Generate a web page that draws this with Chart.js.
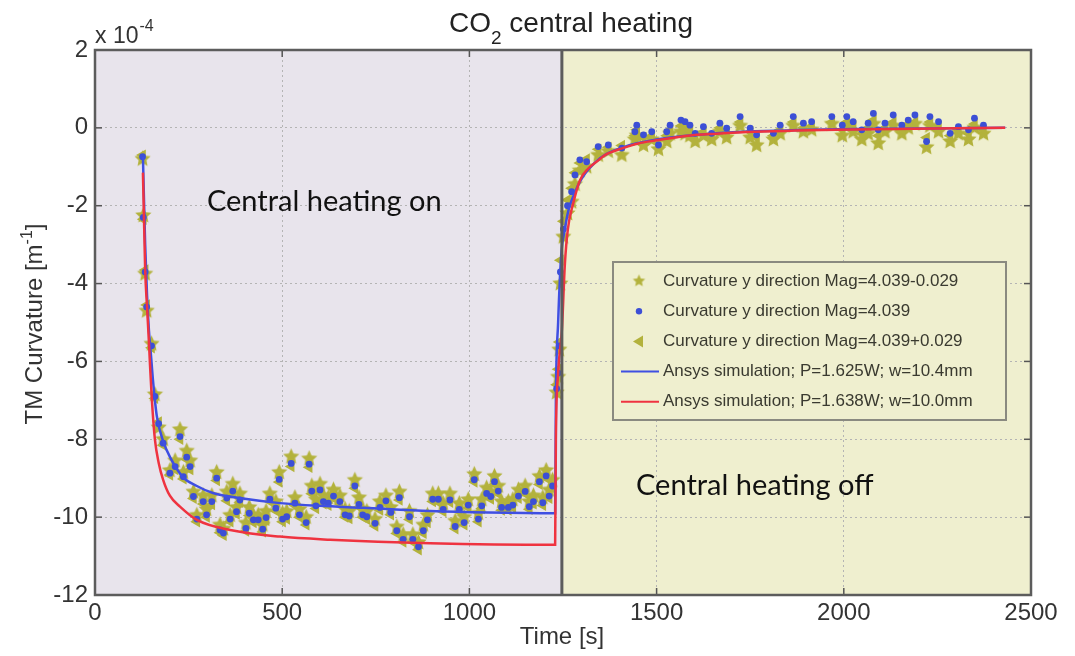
<!DOCTYPE html>
<html>
<head>
<meta charset="utf-8">
<title>CO2 central heating</title>
<script src="https://cdn.jsdelivr.net/npm/chart.js@4.4.1/dist/chart.umd.min.js"></script>
<style>
  html, body { margin: 0; padding: 0; background: #fff; }
</style>
</head>
<body>
<canvas id="myChart" width="1075" height="656"></canvas>
<script>
// measurement times [s], shared by the three magnification series
const times = [127,129,134,138,151,160,170,182,200,214,
  227,236,245,254,263,272,289,298,312,325,
  334,343,352,361,368,378,387,403,412,423,
  436,448,457,467,483,492,501,512,524,534,
  546,564,572,579,590,601,610,623,637,654,
  668,679,694,705,715,726,748,761,777,790,
  806,813,823,840,849,864,877,888,902,917,
  930,948,962,973,986,997,1013,1024,1033,1046,
  1057,1067,1077,1086,1104,1116,1131,1149,1160,1171,
  1187,1196,1205,1213,1222,
  1233,1237,1240,1243,1251,1262,1273,1282,1295,1313,
  1344,1371,1407,1442,1447,1465,1487,1505,1527,1536,
  1565,1576,1589,1603,1625,1647,1669,1687,1723,1750,
  1767,1812,1830,1865,1892,1914,1968,1996,2008,2025,
  2048,2065,2079,2092,2110,2132,2155,2172,2190,2221,
  2230,2253,2284,2306,2333,2349,2373];

// curvature (x 1e-4 m^-1), Mag=4.039
const magMid = [-0.74,-2.30,-3.70,-4.60,-5.60,-6.90,-7.60,-8.10,-8.87,-8.70,
  -7.93,-8.96,-8.46,-8.70,-9.47,-10.05,-9.60,-9.94,-9.60,-9.00,
  -10.33,-10.41,-9.51,-10.05,-9.33,-9.86,-9.56,-10.29,-9.90,-10.07,
  -10.07,-10.31,-10.01,-9.54,-9.77,-9.03,-10.05,-9.99,-8.62,-9.64,
  -9.94,-10.14,-8.64,-9.33,-9.71,-9.30,-9.60,-9.64,-9.46,-9.60,
  -9.94,-9.97,-9.20,-9.67,-9.94,-9.99,-10.16,-9.75,-9.58,-9.88,
  -10.35,-9.50,-10.57,-9.99,-10.57,-10.76,-10.35,-10.07,-9.54,-9.54,
  -9.80,-9.56,-10.24,-9.80,-10.14,-9.69,-9.04,-10.05,-9.71,-9.39,
  -9.47,-9.09,-9.33,-9.75,-9.75,-9.69,-9.46,-9.34,-9.73,-9.60,
  -9.09,-9.63,-8.94,-9.46,-9.20,
  -6.70,-6.30,-5.60,-3.70,-2.60,-2.00,-1.64,-1.21,-0.82,-0.87,
  -0.48,-0.44,-0.52,-0.10,0.07,-0.18,-0.10,-0.44,-0.10,0.07,
  0.20,0.16,0.07,-0.14,0.03,-0.14,0.12,-0.01,0.29,-0.01,
  -0.18,-0.14,0.07,0.29,0.12,0.16,0.29,0.07,0.29,0.16,
  -0.05,0.12,0.37,-0.05,0.12,0.33,0.07,0.20,0.33,-0.35,
  0.29,0.16,-0.14,0.03,-0.05,0.25,0.07];

// Mag=4.039-0.029 (stars)
const magLow = [-0.80,-2.25,-3.75,-4.70,-5.55,-6.85,-7.70,-8.00,-8.80,-8.55,
  -7.75,-8.85,-8.30,-8.55,-9.35,-9.95,-9.45,-9.80,-9.45,-8.85,
  -10.20,-10.30,-9.35,-9.95,-9.15,-9.75,-9.40,-10.15,-9.75,-9.95,
  -9.95,-10.20,-9.85,-9.40,-9.60,-8.85,-9.90,-9.85,-8.45,-9.50,
  -9.80,-10.00,-8.50,-9.20,-9.55,-9.15,-9.45,-9.50,-9.30,-9.45,
  -9.80,-9.85,-9.05,-9.50,-9.80,-9.85,-10.05,-9.60,-9.45,-9.75,
  -10.25,-9.35,-10.45,-9.85,-10.45,-10.65,-10.20,-9.95,-9.40,-9.40,
  -9.65,-9.40,-10.10,-9.65,-10.00,-9.55,-8.90,-9.90,-9.55,-9.25,
  -9.35,-8.95,-9.20,-9.60,-9.60,-9.55,-9.30,-9.20,-9.60,-9.45,
  -8.95,-9.50,-8.80,-9.30,-9.05,
  -6.80,-6.40,-5.70,-4.00,-2.80,-2.20,-1.90,-1.45,-1.10,-1.00,
  -0.70,-0.60,-0.70,-0.30,-0.20,-0.45,-0.30,-0.55,-0.35,-0.15,
  -0.10,-0.15,-0.20,-0.35,-0.20,-0.30,-0.10,-0.25,0.05,-0.25,
  -0.45,-0.30,-0.15,0.05,-0.10,-0.05,0.10,-0.20,0.05,-0.10,
  -0.30,-0.15,0.10,-0.40,-0.10,0.05,-0.15,0.00,0.10,-0.50,
  0.05,-0.10,-0.35,-0.15,-0.30,0.00,-0.15];

// Mag=4.039+0.029 (triangles)
const magHigh = [-0.70,-2.35,-3.65,-4.55,-5.65,-6.95,-7.55,-8.15,-8.92,-8.78,
  -8.00,-9.02,-8.52,-8.78,-9.52,-10.12,-9.66,-10.00,-9.68,-9.06,
  -10.40,-10.47,-9.58,-10.12,-9.40,-9.92,-9.62,-10.36,-9.96,-10.14,
  -10.13,-10.38,-10.08,-9.60,-9.84,-9.10,-10.12,-10.05,-8.70,-9.70,
  -10.00,-10.20,-8.72,-9.40,-9.78,-9.36,-9.66,-9.70,-9.52,-9.66,
  -10.00,-10.04,-9.26,-9.74,-10.00,-10.06,-10.23,-9.82,-9.64,-9.94,
  -10.42,-9.56,-10.64,-10.06,-10.64,-10.84,-10.42,-10.14,-9.60,-9.62,
  -9.86,-9.62,-10.30,-9.86,-10.20,-9.76,-9.10,-10.12,-9.78,-9.46,
  -9.54,-9.16,-9.40,-9.82,-9.82,-9.76,-9.52,-9.40,-9.80,-9.66,
  -9.16,-9.70,-9.00,-9.52,-9.26,
  -6.60,-6.20,-5.50,-3.40,-2.40,-1.85,-1.55,-1.15,-0.90,-0.80,
  -0.55,-0.50,-0.45,-0.20,-0.05,-0.25,-0.20,-0.40,-0.20,-0.05,
  0.05,0.00,-0.05,-0.20,-0.10,-0.20,0.00,-0.10,0.15,-0.10,
  -0.25,-0.20,-0.05,0.15,0.00,0.05,0.15,-0.05,0.15,0.05,
  -0.15,0.00,0.20,-0.20,0.00,0.15,-0.05,0.10,0.15,-0.25,
  0.15,0.05,-0.20,-0.05,-0.15,0.10,-0.05];

// Ansys simulation P=1.625W w=10.4mm
const simBlueT = [128,131,134,139,144,150,155,165,182,200,235,272,315,400,494,600,716,895,1050,1229,
  1231,1237,1245,1255,1265,1280,1300,1349,1410,1500,1660,1763,2030,2431];
const simBlueV = [-0.75,-1.9,-3.0,-4.3,-5.2,-5.9,-6.5,-7.4,-8.05,-8.45,-8.97,-9.2,-9.38,-9.53,-9.64,-9.71,-9.76,-9.84,-9.88,-9.9,
  -7.0,-5.0,-3.3,-2.6,-2.1,-1.7,-1.3,-0.78,-0.5,-0.3,-0.14,-0.09,-0.03,0.0];

// Ansys simulation P=1.638W w=10.0mm
const simRedT = [128,131,134,139,144,147,152,160,170,182,200,227,272,361,494,628,895,1229,
  1231,1237,1247,1255,1263,1277,1295,1317,1349,1362,1410,1451,1501,1584,1660,1763,2030,2431];
const simRedV = [-1.15,-2.4,-3.65,-4.6,-5.5,-6.1,-7.0,-8.0,-8.6,-9.04,-9.45,-9.73,-10.07,-10.33,-10.5,-10.58,-10.67,-10.71,
  -8.0,-6.3,-5.2,-3.5,-2.6,-1.95,-1.35,-1.05,-0.8,-0.7,-0.52,-0.4,-0.32,-0.2,-0.15,-0.1,-0.04,0.0];

const xTicks = [0, 500, 1000, 1500, 2000, 2500];
const yTicks = [2, 0, -2, -4, -6, -8, -10, -12];
const heatingOff = 1247;   // time the heater is switched off

const olive = '#b3b23c';
const dotBlue = '#3c4fd6';
const lineBlue = '#3f4fe2';
const lineRed = '#ef3340';
const lavender = '#e8e4ec';
const paleYellow = '#efefcf';
const SANS = '"Liberation Sans", Arial, sans-serif';

function makeStar(r, color) {
  const c = document.createElement('canvas');
  c.width = c.height = Math.ceil(2 * r + 2);
  const g = c.getContext('2d');
  const cx = c.width / 2, cy = c.height / 2;
  g.beginPath();
  for (let i = 0; i < 10; i++) {
    const rr = i % 2 ? r * 0.48 : r;
    const ang = -Math.PI / 2 + i * Math.PI / 5;
    g.lineTo(cx + rr * Math.cos(ang), cy + rr * Math.sin(ang));
  }
  g.closePath();
  g.fillStyle = color;
  g.fill();
  return c;
}
const starImg = makeStar(8.5, olive);

const toXY = (xs, ys) => xs.map((t, i) => ({ x: t, y: ys[i] }));

// draws a run of [text, size, dy] pieces, centred on x
function drawPieces(ctx, pieces, x, y, color) {
  ctx.fillStyle = color;
  ctx.textBaseline = 'alphabetic';
  ctx.textAlign = 'left';
  let total = 0;
  pieces.forEach(p => { ctx.font = p[1] + 'px ' + SANS; total += ctx.measureText(p[0]).width; });
  let cx = x - total / 2;
  pieces.forEach(p => {
    ctx.font = p[1] + 'px ' + SANS;
    ctx.fillText(p[0], cx, y + p[2]);
    cx += ctx.measureText(p[0]).width;
  });
}

const backdrop = {
  id: 'backdrop',
  beforeDraw(chart) {
    const { ctx, chartArea: a, scales: { x } } = chart;
    const xs = x.getPixelForValue(heatingOff);
    ctx.save();
    ctx.fillStyle = '#fff';
    ctx.fillRect(0, 0, chart.width, chart.height);
    ctx.fillStyle = lavender;
    ctx.fillRect(a.left, a.top, xs - a.left, a.bottom - a.top);
    ctx.fillStyle = paleYellow;
    ctx.fillRect(xs, a.top, a.right - xs, a.bottom - a.top);
    ctx.restore();
  }
};

const overlay = {
  id: 'overlay',
  afterDraw(chart) {
    const { ctx, chartArea: a, scales: { x, y } } = chart;
    const line = (x1, y1, x2, y2) => { ctx.beginPath(); ctx.moveTo(x1, y1); ctx.lineTo(x2, y2); ctx.stroke(); };
    ctx.save();

    // MATLAB style inward ticks
    ctx.strokeStyle = '#555';
    ctx.lineWidth = 1.5;
    xTicks.forEach(v => {
      const px = x.getPixelForValue(v);
      line(px, a.top, px, a.top + 7);
      line(px, a.bottom, px, a.bottom - 7);
    });
    yTicks.forEach(v => {
      const py = y.getPixelForValue(v);
      line(a.left, py, a.left + 7, py);
      line(a.right, py, a.right - 7, py);
    });

    // axes box + switch-off divider
    ctx.strokeStyle = '#5c5c5c';
    ctx.lineWidth = 2.5;
    ctx.strokeRect(a.left, a.top, a.right - a.left, a.bottom - a.top);
    const xs = x.getPixelForValue(heatingOff);
    ctx.lineWidth = 3;
    line(xs, a.top, xs, a.bottom);

    // title with subscript
    drawPieces(ctx, [['CO', 28, 0], ['2', 19, 12], [' central heating', 28, 0]], 571, 32, '#222');

    // exponent label
    ctx.textAlign = 'left';
    ctx.fillStyle = '#333';
    ctx.font = '23px ' + SANS;
    ctx.fillText('x 10', a.left, 43);
    const w = ctx.measureText('x 10').width;
    ctx.font = '16px ' + SANS;
    ctx.fillText('-4', a.left + w + 1, 31);

    // axis titles
    drawPieces(ctx, [['Time [s]', 24, 0]], 562, 644, '#333');
    ctx.save();
    ctx.translate(42, 324);
    ctx.rotate(-Math.PI / 2);
    drawPieces(ctx, [['TM Curvature [m', 24, 0], ['-1', 16, -10], [']', 24, 0]], 0, 0, '#333');
    ctx.restore();

    // phase annotations
    ctx.fillStyle = '#111';
    ctx.font = '29px Lato, "Open Sans", sans-serif';
    ctx.textAlign = 'left';
    ctx.fillText('Central heating on', x.getPixelForValue(299), y.getPixelForValue(-2.13));
    ctx.fillText('Central heating off', x.getPixelForValue(1445), y.getPixelForValue(-9.43));

    // legend box
    const lx = 613, ly = 262, lw = 393, lh = 158;
    ctx.fillStyle = paleYellow;
    ctx.fillRect(lx, ly, lw, lh);
    ctx.strokeStyle = '#8a8a80';
    ctx.lineWidth = 2;
    ctx.strokeRect(lx, ly, lw, lh);
    ctx.font = '17px ' + SANS;
    ctx.textBaseline = 'middle';
    chart.data.datasets.forEach((ds, i) => {
      const ry = ly + 19 + i * 30.2;
      const mx = lx + 26;
      if (i === 0) {
        const s = makeStar(6.5, olive);
        ctx.drawImage(s, mx - s.width / 2, ry - s.height / 2);
      }
      if (i === 1) { ctx.fillStyle = dotBlue; ctx.beginPath(); ctx.arc(mx, ry, 3.2, 0, 2 * Math.PI); ctx.fill(); }
      if (i === 2) {
        ctx.fillStyle = olive;
        ctx.beginPath(); ctx.moveTo(mx - 6, ry); ctx.lineTo(mx + 4, ry - 6); ctx.lineTo(mx + 4, ry + 6); ctx.closePath(); ctx.fill();
      }
      if (i >= 3) { ctx.strokeStyle = ds.borderColor; ctx.lineWidth = 2; line(lx + 8, ry, lx + 46, ry); }
      ctx.fillStyle = '#3a3a30';
      ctx.fillText(ds.label, lx + 50, ry);
    });
    ctx.restore();
  }
};

const ctx = document.getElementById('myChart').getContext('2d');
const myChart = new Chart(ctx, {
  type: 'scatter',
  data: {
    datasets: [{
      label: 'Curvature y direction Mag=4.039-0.029',
      data: toXY(times, magLow),
      pointStyle: starImg,
      pointRadius: 8,
      order: 5
    }, {
      label: 'Curvature y direction Mag=4.039',
      data: toXY(times, magMid),
      pointStyle: 'circle',
      pointRadius: 3.4,
      pointBackgroundColor: dotBlue,
      pointBorderWidth: 0,
      order: 3
    }, {
      label: 'Curvature y direction Mag=4.039+0.029',
      data: toXY(times, magHigh),
      pointStyle: 'triangle',
      pointRotation: -90,
      pointRadius: 6.5,
      pointBackgroundColor: olive,
      pointBorderWidth: 0,
      order: 4
    }, {
      label: 'Ansys simulation; P=1.625W; w=10.4mm',
      data: toXY(simBlueT, simBlueV),
      showLine: true,
      pointRadius: 0,
      borderColor: lineBlue,
      borderWidth: 2.5,
      cubicInterpolationMode: 'monotone',
      order: 2
    }, {
      label: 'Ansys simulation; P=1.638W; w=10.0mm',
      data: toXY(simRedT, simRedV),
      showLine: true,
      pointRadius: 0,
      borderColor: lineRed,
      borderWidth: 2.5,
      cubicInterpolationMode: 'monotone',
      order: 1
    }]
  },
  options: {
    responsive: false,
    animation: false,
    layout: { padding: { top: 50, right: 44, left: 0, bottom: 0 } },
    plugins: {
      legend: { display: false },
      title: { display: false },
      tooltip: { enabled: false }
    },
    scales: {
      x: {
        type: 'linear',
        min: 0,
        max: 2500,
        ticks: { stepSize: 500, padding: 4, color: '#333', maxRotation: 0, font: { family: SANS, size: 24 },
          callback: v => String(v) },
        grid: { color: '#b4b4b4', lineWidth: 1, drawTicks: false },
        border: { display: false, dash: [2, 3] },
        afterFit(scale) { scale.height = 61; }
      },
      y: {
        min: -12,
        max: 2,
        ticks: { stepSize: 2, padding: 7, color: '#333', font: { family: SANS, size: 24 },
          callback: v => String(v) },
        grid: { color: '#b4b4b4', lineWidth: 1, drawTicks: false },
        border: { display: false, dash: [2, 3] },
        afterFit(scale) { scale.width = 95; }
      }
    }
  },
  plugins: [backdrop, overlay]
});
</script>
</body>
</html>
